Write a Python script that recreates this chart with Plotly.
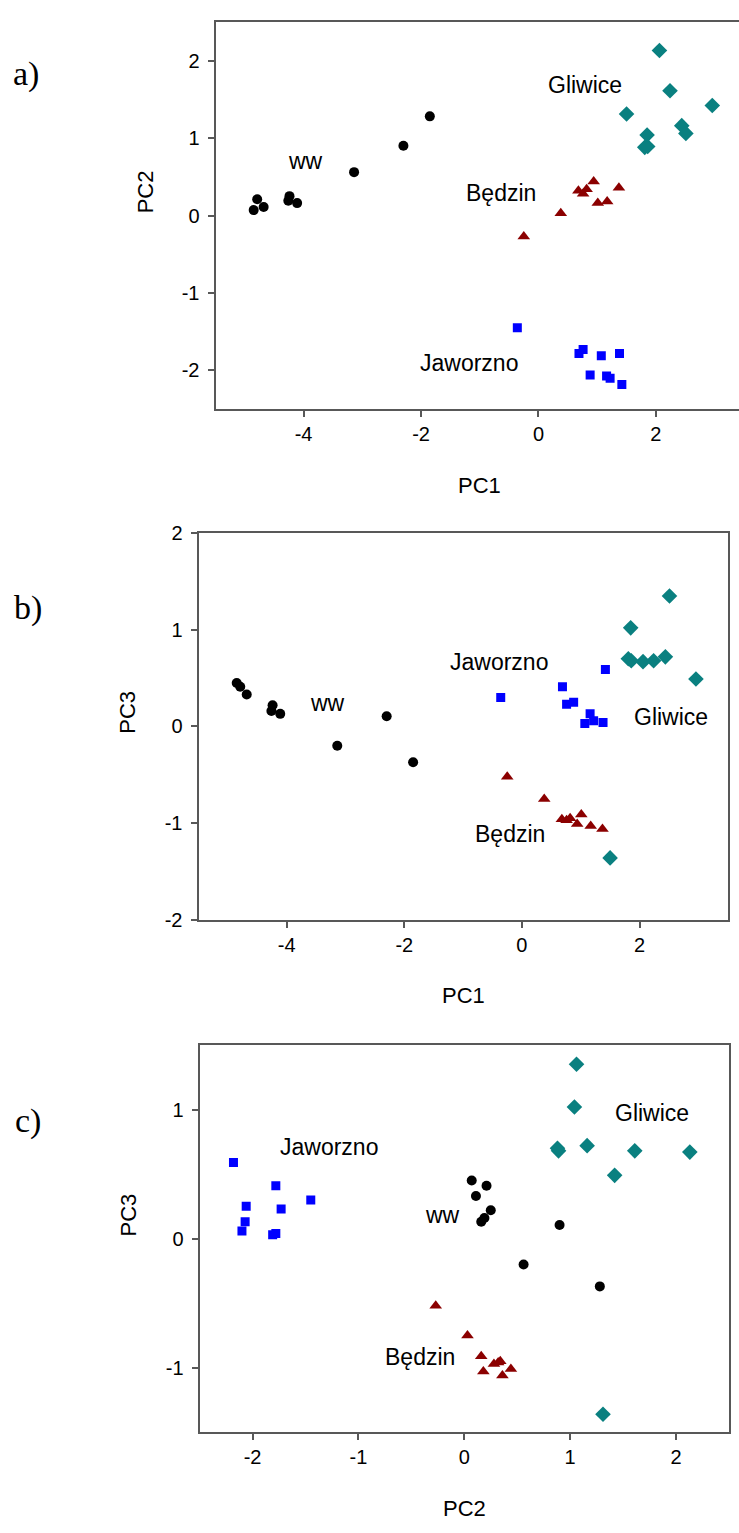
import plotly.graph_objects as go

W, H = 739, 1533

# ---- data (PC scores per sample) ----
ww_pc1 = [-4.85, -4.79, -4.68, -4.24, -4.26, -4.11, -3.14, -2.30, -1.85]
ww_pc2 = [0.07, 0.21, 0.11, 0.25, 0.19, 0.16, 0.56, 0.90, 1.28]
ww_pc3 = [0.45, 0.41, 0.33, 0.22, 0.16, 0.13, -0.20, 0.105, -0.37]

gliwice_pc1 = [2.06, 2.24, 2.96, 1.50, 2.44, 2.51, 1.85, 1.81, 1.86]
gliwice_pc2 = [2.13, 1.61, 1.42, 1.31, 1.16, 1.06, 1.04, 0.88, 0.89]
gliwice_pc3 = [0.67, 0.68, 0.49, -1.36, 0.72, 1.35, 1.02, 0.70, 0.68]

bedzin_pc1 = [-0.25, 0.38, 0.68, 0.76, 0.82, 0.94, 1.01, 1.17, 1.37]
bedzin_pc2 = [-0.27, 0.03, 0.32, 0.28, 0.34, 0.44, 0.16, 0.18, 0.36]
bedzin_pc3 = [-0.52, -0.75, -0.96, -0.97, -0.95, -1.01, -0.91, -1.03, -1.06]

jaworzno_pc1 = [-0.36, 0.69, 0.76, 1.07, 1.38, 0.88, 1.16, 1.22, 1.42]
jaworzno_pc2 = [-1.45, -1.78, -1.73, -1.81, -1.78, -2.06, -2.07, -2.10, -2.18]
jaworzno_pc3 = [0.30, 0.41, 0.23, 0.03, 0.04, 0.25, 0.13, 0.06, 0.59]

# label positions (data coords) per panel
labels_a = [("Gliwice", 0.80, 1.68), ("ww", -3.96, 0.70), ("Będzin", -0.63, 0.29), ("Jaworzno", -1.19, -1.91)]
labels_b = [("Jaworzno", -0.39, 0.67), ("ww", -3.30, 0.24), ("Gliwice", 2.53, 0.10), ("Będzin", -0.21, -1.11)]
labels_c = [("Jaworzno", -1.28, 0.71), ("ww", -0.21, 0.18), ("Gliwice", 1.77, 0.97), ("Będzin", -0.42, -0.92)]

# tick values and labels (plain hyphen minus, as in the original)
tick_pc1 = [-4, -2, 0, 2]
tick_pc1_text = ["-4", "-2", "0", "2"]
tick_pc2a = [-2, -1, 0, 1, 2]
tick_pc2a_text = ["-2", "-1", "0", "1", "2"]
tick_pc3b = [-2, -1, 0, 1, 2]
tick_pc3b_text = ["-2", "-1", "0", "1", "2"]
tick_pc2c = [-2, -1, 0, 1, 2]
tick_pc2c_text = ["-2", "-1", "0", "1", "2"]
tick_pc3c = [-1, 0, 1]
tick_pc3c_text = ["-1", "0", "1"]

styles = {
    "ww": dict(symbol="circle", color="#000000", size=10),
    "Gliwice": dict(symbol="diamond", color="#0a8080", size=12),
    "Będzin": dict(symbol="triangle-up", color="#8b0000", size=11),
    "Jaworzno": dict(symbol="square", color="#0000ff", size=9),
}
groups = {
    "ww": (ww_pc1, ww_pc2, ww_pc3),
    "Gliwice": (gliwice_pc1, gliwice_pc2, gliwice_pc3),
    "Będzin": (bedzin_pc1, bedzin_pc2, bedzin_pc3),
    "Jaworzno": (jaworzno_pc1, jaworzno_pc2, jaworzno_pc3),
}

fig = go.Figure()
panels = [("x", "y", 0, 1), ("x2", "y2", 0, 2), ("x3", "y3", 1, 2)]
for xa, ya, ix, iy in panels:
    for name, vals in groups.items():
        st = styles[name]
        fig.add_trace(go.Scatter(
            x=vals[ix], y=vals[iy], mode="markers", xaxis=xa, yaxis=ya,
            marker=dict(symbol=st["symbol"], color=st["color"], size=st["size"], line=dict(width=0)),
            showlegend=False, hoverinfo="skip"))

FONT = "Liberation Sans, Arial, sans-serif"
LC = "#585858"

def px_x(p):
    return p / W

def px_y(p):
    return 1 - p / H

axis_common = dict(showgrid=False, zeroline=False, showline=True, linecolor=LC, linewidth=2,
                   ticks="outside", ticklen=6, tickwidth=1.5, tickcolor=LC,
                   tickfont=dict(family=FONT, size=20, color="#000"))
yx = dict(ticklabelstandoff=4)

fig.update_layout(
    width=W, height=H, margin=dict(l=0, r=0, t=0, b=0),
    paper_bgcolor="white", plot_bgcolor="white",
    xaxis=dict(domain=[px_x(215.5), 1.0], range=[-5.5, 3.415], tickvals=tick_pc1, ticktext=tick_pc1_text,
               anchor="y", mirror=True, **axis_common),
    yaxis=dict(domain=[px_y(404), px_y(11)], range=[-2.5, 2.5], tickvals=tick_pc2a, ticktext=tick_pc2a_text,
               anchor="x", mirror=False, **yx, **axis_common),
    xaxis2=dict(domain=[px_x(198.5), px_x(727.7)], range=[-5.5, 3.5], tickvals=tick_pc1, ticktext=tick_pc1_text,
                anchor="y2", mirror=True, **axis_common),
    yaxis2=dict(domain=[px_y(922), px_y(529.7)], range=[-2, 2], tickvals=tick_pc3b, ticktext=tick_pc3b_text,
                anchor="x2", mirror=True, **yx, **axis_common),
    xaxis3=dict(domain=[px_x(199.6), px_x(729)], range=[-2.5, 2.5], tickvals=tick_pc2c, ticktext=tick_pc2c_text,
                anchor="y3", mirror=True, **axis_common),
    yaxis3=dict(domain=[px_y(1442), px_y(1049)], range=[-1.5, 1.5], tickvals=tick_pc3c, ticktext=tick_pc3c_text,
                anchor="x3", mirror=True, **yx, **axis_common),
)

ann = []
for labs, xr, yr in [(labels_a, "x", "y"), (labels_b, "x2", "y2"), (labels_c, "x3", "y3")]:
    for t, x, y in labs:
        ann.append(dict(text=t, x=x, y=y, xref=xr, yref=yr, showarrow=False,
                        xanchor="center", yanchor="middle", font=dict(family=FONT, size=23, color="#000")))

# axis titles
for t, x, y in [("PC1", 479, 481), ("PC1", 463, 999), ("PC2", 464, 1519)]:
    ann.append(dict(text=t, x=px_x(x), y=px_y(y), xref="paper", yref="paper", showarrow=False,
                    xanchor="center", yanchor="middle", font=dict(family=FONT, size=22, color="#000")))
for t, x, y in [("PC2", 145, 184), ("PC3", 128, 712), ("PC3", 128, 1222)]:
    ann.append(dict(text=t, x=px_x(x), y=px_y(y), xref="paper", yref="paper", showarrow=False, textangle=-90,
                    xanchor="center", yanchor="middle", font=dict(family=FONT, size=22, color="#000")))
# panel letters
for t, x, y in [("a)", 26, 64), ("b)", 28, 606), ("c)", 28, 1126)]:
    ann.append(dict(text=t, x=px_x(x), y=px_y(y), xref="paper", yref="paper", showarrow=False,
                    xanchor="center", yanchor="middle",
                    font=dict(family="Liberation Serif, Times New Roman, serif", size=34, color="#000")))

fig.update_layout(annotations=ann)
fig.write_html("out.html")
